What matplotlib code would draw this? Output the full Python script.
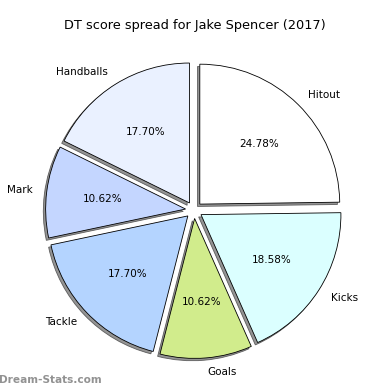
import matplotlib
matplotlib.use("Agg")
import matplotlib.pyplot as plt

labels = ["Hitout", "Kicks", "Goals", "Tackle", "Mark", "Handballs"]
scores = [28, 21, 12, 20, 12, 20]
colors = ["#ffffff", "#dbffff", "#d1ec8c", "#b4d4ff", "#c4d6ff", "#eaf1ff"]

fig = plt.figure(figsize=(3.9, 3.9), dpi=100)
ax = fig.add_axes([0.0487, 0.0128, 0.897, 0.897])

ax.pie(scores, labels=labels, colors=colors, explode=[0.06] * len(scores),
       autopct="%1.2f%%", startangle=90, counterclock=False,
       shadow={"ox": -0.012, "oy": -0.012, "facecolor": "#7a7a7a",
               "edgecolor": "#444444", "linewidth": 0.6, "alpha": 0.8},
       wedgeprops={"edgecolor": "black", "linewidth": 0.6},
       textprops={"fontsize": 7.5})
ax.set_aspect("equal")

fig.text(0.5, 0.935, "DT score spread for Jake Spencer (2017)",
         ha="center", va="center", fontsize=9.3)
fig.text(-0.003, 0.025, "Dream-Stats.com", ha="left", va="center",
         fontsize=7.6, color="#929292", fontweight="bold")

fig.savefig("out.png", dpi=100)
